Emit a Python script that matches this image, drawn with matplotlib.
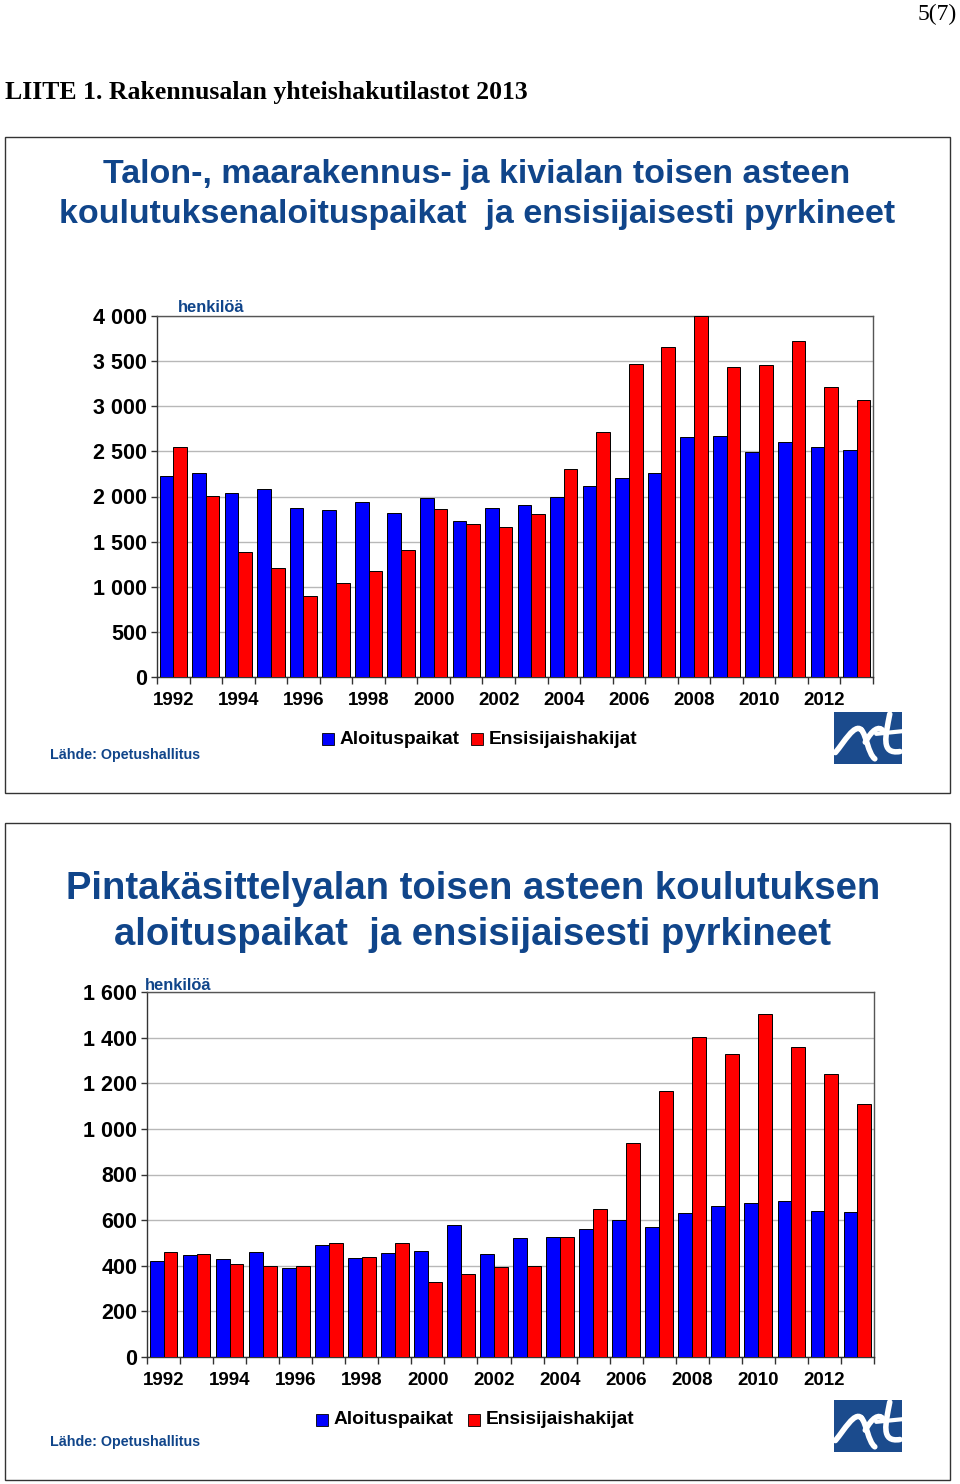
import matplotlib.pyplot as plt
import matplotlib.ticker as ticker
from matplotlib.patches import Rectangle, PathPatch
from matplotlib.path import Path
import numpy as np

# ── Data ──────────────────────────────────────────────────────────────────────
years = list(range(1992, 2014))

# Talon-, maarakennus- ja kivialan toisen asteen koulutus
build_places = [2231, 2260, 2043, 2083, 1869, 1847, 1943, 1814, 1984, 1726, 1869,
                1906, 1998, 2116, 2209, 2260, 2655, 2666, 2496, 2603, 2551, 2518]
build_applicants = [2548, 2009, 1390, 1206, 903, 1040, 1180, 1412, 1858, 1700, 1659,
                    1803, 2304, 2714, 3473, 3654, 4000, 3440, 3462, 3728, 3211, 3068]

# Pintakäsittelyalan toisen asteen koulutus
paint_places = [419, 448, 431, 460, 388, 493, 435, 455, 464, 577, 453,
                523, 526, 561, 601, 568, 631, 660, 676, 685, 639, 635]
paint_applicants = [460, 453, 406, 401, 397, 501, 439, 498, 328, 363, 393,
                    401, 526, 650, 936, 1164, 1404, 1329, 1502, 1359, 1241, 1107]

series_labels = ["Aloituspaikat", "Ensisijaishakijat"]
year_labels = [str(y) for y in years[::2]]

# ── Style ─────────────────────────────────────────────────────────────────────
W, H = 960, 1484
BLUE = "#0000ff"
RED = "#ff0000"
TITLE_BLUE = "#10458a"
SANS = "Liberation Sans"
SERIF = "Liberation Serif"

fig = plt.figure(figsize=(W / 100, H / 100), dpi=100)
fig.patch.set_facecolor("white")

# background axes in pixel coordinates for frames, titles, legends
bg = fig.add_axes([0, 0, 1, 1])
bg.set_xlim(0, W)
bg.set_ylim(H, 0)
bg.axis("off")


def px_axes(left, top, right, bottom):
    return fig.add_axes([left / W, 1 - bottom / H, (right - left) / W, (bottom - top) / H])


def thousands(v, pos):
    return f"{int(v):,}".replace(",", " ")


def draw_chart(ax, places, applicants, ymax, ystep):
    x = np.arange(len(years))
    w = 0.42
    ax.bar(x - w / 2, places, w, color=BLUE, edgecolor="black", linewidth=0.7, zorder=3)
    ax.bar(x + w / 2, applicants, w, color=RED, edgecolor="black", linewidth=0.7, zorder=3)
    ax.set_xlim(-0.5, len(years) - 0.5)
    ax.set_ylim(0, ymax)
    ax.set_yticks(np.arange(0, ymax + 1, ystep))
    ax.yaxis.set_major_formatter(ticker.FuncFormatter(thousands))
    ax.yaxis.grid(True, color="#b8b8b8", linewidth=1.0)
    ax.set_axisbelow(True)
    # boundary ticks, labels every other year
    ax.set_xticks(np.arange(-0.5, len(years), 1.0))
    ax.set_xticklabels([])
    ax.set_xticks(x[::2], minor=True)
    ax.set_xticklabels(year_labels, minor=True)
    ax.tick_params(axis="x", which="major", direction="out", length=5, width=1, color="#333333")
    ax.tick_params(axis="x", which="minor", length=0, pad=11, labelsize=13.5)
    ax.tick_params(axis="y", direction="out", length=4, width=1, color="#333333",
                   labelsize=15.5, pad=3)
    for lbl in ax.get_xticklabels(minor=True) + ax.get_yticklabels():
        lbl.set_fontweight("bold")
        lbl.set_family(SANS)
    for name, sp in ax.spines.items():
        sp.set_color("#333333" if name in ("left", "bottom") else "#555555")
        sp.set_linewidth(1.0)


def draw_legend(y, x_blue, x_red):
    for xs, col, lab in ((x_blue, BLUE, series_labels[0]), (x_red, RED, series_labels[1])):
        bg.add_patch(Rectangle((xs, y - 6), 12, 12, facecolor=col, edgecolor="black", linewidth=0.6))
        bg.text(xs + 18, y, lab, fontsize=13.8, fontweight="bold", family=SANS,
                va="center", ha="left", color="black")


def draw_logo(left, top, width, height):
    lax = px_axes(left, top, left + width, top + height)
    lax.set_xlim(0, 1)
    lax.set_ylim(0, 1)
    lax.axis("off")
    lax.add_patch(Rectangle((0, 0), 1, 1, facecolor="#1b4b8d", edgecolor="none"))
    strokes = [
        [(0.02, 0.22), (0.15, 0.42), (0.30, 0.78), (0.40, 0.66)],
        [(0.40, 0.66), (0.48, 0.55), (0.50, 0.20), (0.60, 0.10)],
        [(0.46, 0.42), (0.56, 0.66), (0.66, 0.74), (0.72, 0.64)],
        [(0.82, 0.96), (0.76, 0.55), (0.68, 0.18), (0.97, 0.24)],
    ]
    codes = [Path.MOVETO, Path.CURVE4, Path.CURVE4, Path.CURVE4]
    for pts in strokes:
        lax.add_patch(PathPatch(Path(pts, codes), facecolor="none", edgecolor="white",
                                linewidth=4.0, capstyle="round"))
    lax.plot([0.62, 1.0], [0.58, 0.63], color="white", linewidth=3.0, solid_capstyle="round")


# ── Page header ───────────────────────────────────────────────────────────────
bg.text(957, 14, "5(7)", fontsize=17, family=SERIF, ha="right", va="center")
bg.text(5, 92, "LIITE 1. Rakennusalan yhteishakutilastot 2013", fontsize=18.5,
        family=SERIF, fontweight="bold", ha="left", va="center")

# ── Chart 1 ───────────────────────────────────────────────────────────────────
bg.add_patch(Rectangle((5, 137), 945, 656, facecolor="none", edgecolor="#333333", linewidth=1.0))
bg.text(477, 174, "Talon-, maarakennus- ja kivialan toisen asteen", fontsize=24.5,
        fontweight="bold", family=SANS, color=TITLE_BLUE, ha="center", va="center")
bg.text(477, 215, "koulutuksenaloituspaikat  ja ensisijaisesti pyrkineet", fontsize=24.5,
        fontweight="bold", family=SANS, color=TITLE_BLUE, ha="center", va="center")

ax1 = px_axes(157, 316, 873, 677)
draw_chart(ax1, build_places, build_applicants, 4000, 500)
bg.text(178, 307, "henkilöä", fontsize=11.9, fontweight="bold", family=SANS,
        color=TITLE_BLUE, ha="left", va="center")
draw_legend(739, 322, 471)
bg.text(50, 755, "Lähde: Opetushallitus", fontsize=10.3, fontweight="bold", family=SANS,
        color=TITLE_BLUE, ha="left", va="center")
draw_logo(834, 712, 68, 52)

# ── Chart 2 ───────────────────────────────────────────────────────────────────
bg.add_patch(Rectangle((5, 823), 945, 657, facecolor="none", edgecolor="#333333", linewidth=1.0))
bg.text(473, 889, "Pintakäsittelyalan toisen asteen koulutuksen", fontsize=27.5,
        fontweight="bold", family=SANS, color=TITLE_BLUE, ha="center", va="center")
bg.text(473, 935, "aloituspaikat  ja ensisijaisesti pyrkineet", fontsize=27.5,
        fontweight="bold", family=SANS, color=TITLE_BLUE, ha="center", va="center")

ax2 = px_axes(147, 992, 874, 1357)
draw_chart(ax2, paint_places, paint_applicants, 1600, 200)
bg.text(145, 985, "henkilöä", fontsize=11.9, fontweight="bold", family=SANS,
        color=TITLE_BLUE, ha="left", va="center")
draw_legend(1420, 316, 468)
bg.text(50, 1442, "Lähde: Opetushallitus", fontsize=10.3, fontweight="bold", family=SANS,
        color=TITLE_BLUE, ha="left", va="center")
draw_logo(834, 1400, 68, 52)

fig.savefig("out.png", dpi=100)
